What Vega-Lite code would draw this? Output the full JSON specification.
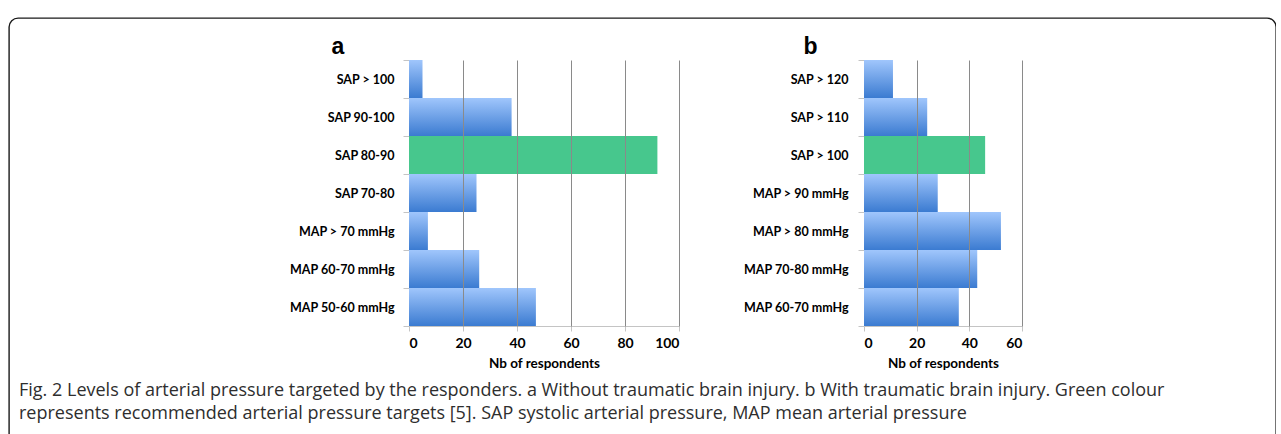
{
  "$schema": "https://vega.github.io/schema/vega-lite/v6.json",
  "width": 1267,
  "height": 430,
  "padding": {"left": 9, "top": 12, "right": 0, "bottom": 0},
  "background": "white",
  "title": {
    "text": ["Fig. 2 Levels of arterial pressure targeted by the responders. a Without traumatic brain injury. b With traumatic brain injury. Green colour", "represents recommended arterial pressure targets [5]. SAP systolic arterial pressure, MAP mean arterial pressure"],
    "orient": "bottom",
    "anchor": "start",
    "frame": "group",
    "dx": 10,
    "offset": -52,
    "baseline": "alphabetic",
    "lineHeight": 22.5,
    "font": "Open Sans",
    "fontSize": 18,
    "fontWeight": "normal",
    "color": "#2e2e2e"
  },
  "datasets": {
    "a": [
      {"label": "SAP > 100", "value": 5, "rec": false},
      {"label": "SAP 90-100", "value": 38, "rec": false},
      {"label": "SAP 80-90", "value": 92, "rec": true},
      {"label": "SAP 70-80", "value": 25, "rec": false},
      {"label": "MAP > 70 mmHg", "value": 7, "rec": false},
      {"label": "MAP 60-70 mmHg", "value": 26, "rec": false},
      {"label": "MAP 50-60 mmHg", "value": 47, "rec": false}
    ],
    "b": [
      {"label": "SAP > 120", "value": 11, "rec": false},
      {"label": "SAP > 110", "value": 24, "rec": false},
      {"label": "SAP > 100", "value": 46, "rec": true},
      {"label": "MAP > 90 mmHg", "value": 28, "rec": false},
      {"label": "MAP > 80 mmHg", "value": 52, "rec": false},
      {"label": "MAP 70-80 mmHg", "value": 43, "rec": false},
      {"label": "MAP 60-70 mmHg", "value": 36, "rec": false}
    ]
  },
  "layer": [
    {
      "data": {"name": "a"},
      "transform": [{"filter": "!datum.rec"}],
      "mark": {"type": "bar", "color": {"gradient": "linear", "x1": 0, "y1": 0, "x2": 0, "y2": 1, "stops": [{"offset": 0, "color": "#a0c6fc"}, {"offset": 1, "color": "#3b7bd1"}]}},
      "encoding": {
        "y": {"field": "label", "type": "nominal", "sort": null,
          "scale": {"domain": ["SAP > 100", "SAP 90-100", "SAP 80-90", "SAP 70-80", "MAP > 70 mmHg", "MAP 60-70 mmHg", "MAP 50-60 mmHg"], "range": [42, 308], "paddingInner": 0, "paddingOuter": 0},
          "axis": {"orient": "left", "offset": -400, "title": "a", "titleAngle": 0, "titleAlign": "left", "titleBaseline": "alphabetic", "titleX": -78, "titleY": 35, "titleFont": "Liberation Sans", "titleFontSize": 23, "titleFontWeight": "bold", "labelPadding": 9, "tickSize": 6, "tickBand": "extent", "grid": false}},
        "x": {"field": "value", "type": "quantitative",
          "scale": {"domain": [0, 100], "range": [400, 670], "nice": false},
          "axis": {"orient": "top", "grid": true, "gridColor": "#8a8a8a", "labels": false, "ticks": false, "domain": false, "title": null, "values": [20, 40, 60, 80, 100], "zindex": 1}}
      }
    },
    {
      "data": {"name": "a"},
      "transform": [{"filter": "datum.rec"}],
      "mark": {"type": "bar", "color": "#47c78d"},
      "encoding": {
        "y": {"field": "label", "type": "nominal", "sort": null,
          "scale": {"domain": ["SAP > 100", "SAP 90-100", "SAP 80-90", "SAP 70-80", "MAP > 70 mmHg", "MAP 60-70 mmHg", "MAP 50-60 mmHg"], "range": [42, 308], "paddingInner": 0, "paddingOuter": 0},
          "axis": null},
        "x": {"field": "value", "type": "quantitative",
          "scale": {"domain": [0, 100], "range": [400, 670], "nice": false},
          "axis": {"orient": "bottom", "offset": -122, "grid": false, "values": [0, 20, 40, 60, 80, 100], "title": "Nb of respondents", "tickSize": 5, "labelPadding": 5, "titlePadding": 6}}
      }
    },
    {
      "data": {"name": "b"},
      "transform": [{"filter": "!datum.rec"}],
      "mark": {"type": "bar", "color": {"gradient": "linear", "x1": 0, "y1": 0, "x2": 0, "y2": 1, "stops": [{"offset": 0, "color": "#a0c6fc"}, {"offset": 1, "color": "#3b7bd1"}]}},
      "encoding": {
        "y": {"field": "label", "type": "nominal", "sort": null,
          "scale": {"domain": ["SAP > 120", "SAP > 110", "SAP > 100", "MAP > 90 mmHg", "MAP > 80 mmHg", "MAP 70-80 mmHg", "MAP 60-70 mmHg"], "range": [42, 308], "paddingInner": 0, "paddingOuter": 0},
          "axis": {"orient": "left", "offset": -855, "title": "b", "titleAngle": 0, "titleAlign": "left", "titleBaseline": "alphabetic", "titleX": -61, "titleY": 35, "titleFont": "Liberation Sans", "titleFontSize": 23, "titleFontWeight": "bold", "labelPadding": 10, "tickSize": 6, "tickBand": "extent", "grid": false}},
        "x": {"field": "value", "type": "quantitative",
          "scale": {"domain": [0, 60], "range": [855, 1013], "nice": false},
          "axis": {"orient": "top", "grid": true, "gridColor": "#8a8a8a", "labels": false, "ticks": false, "domain": false, "title": null, "values": [20, 40, 60], "zindex": 1}}
      }
    },
    {
      "data": {"name": "b"},
      "transform": [{"filter": "datum.rec"}],
      "mark": {"type": "bar", "color": "#47c78d"},
      "encoding": {
        "y": {"field": "label", "type": "nominal", "sort": null,
          "scale": {"domain": ["SAP > 120", "SAP > 110", "SAP > 100", "MAP > 90 mmHg", "MAP > 80 mmHg", "MAP 70-80 mmHg", "MAP 60-70 mmHg"], "range": [42, 308], "paddingInner": 0, "paddingOuter": 0},
          "axis": null},
        "x": {"field": "value", "type": "quantitative",
          "scale": {"domain": [0, 60], "range": [855, 1013], "nice": false},
          "axis": {"orient": "bottom", "offset": -122, "grid": false, "values": [0, 20, 40, 60], "title": "Nb of respondents", "tickSize": 5, "labelPadding": 5, "titlePadding": 6}}
      }
    }
  ],
  "resolve": {
    "scale": {"x": "independent", "y": "independent"},
    "axis": {"x": "independent", "y": "independent"}
  },
  "config": {
    "view": {"stroke": "#1a1a1a", "strokeWidth": 1.4, "cornerRadius": 9, "fill": "white"},
    "axis": {
      "labelFont": "Lato",
      "labelFontWeight": "bold",
      "labelColor": "#000",
      "titleFont": "Lato",
      "titleFontWeight": "bold",
      "titleColor": "#000",
      "domainColor": "#c4c4c4",
      "tickColor": "#c4c4c4",
      "domainWidth": 1,
      "tickWidth": 1
    },
    "axisY": {"labelFontSize": 12.5},
    "axisX": {"labelFontSize": 14, "titleFontSize": 13.5}
  }
}
